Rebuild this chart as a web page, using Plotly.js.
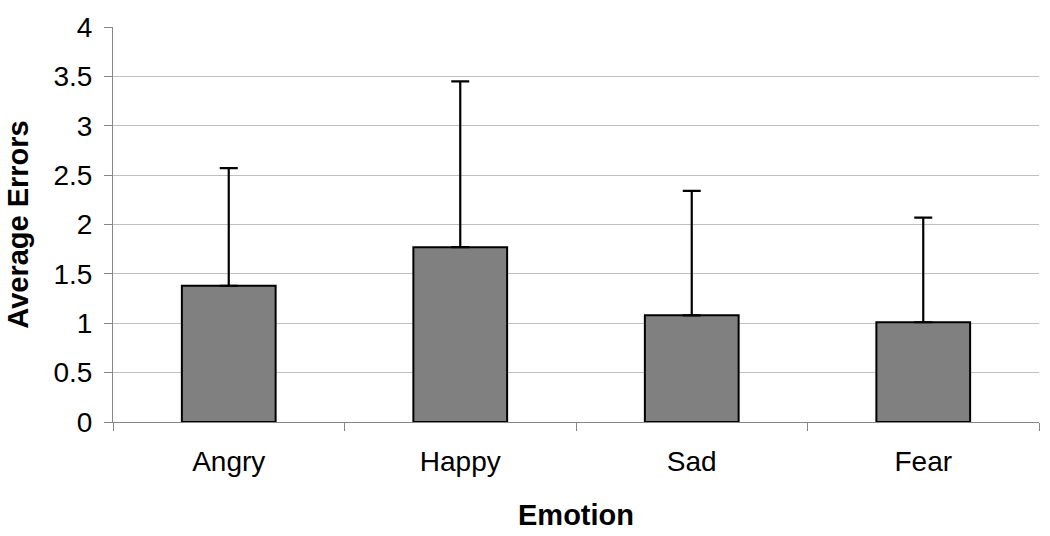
<!DOCTYPE html>
<html>
<head>
<meta charset="utf-8">
<script src="https://cdn.plot.ly/plotly-3.0.1.min.js"></script>
<style>html,body{margin:0;padding:0;background:#fff;}#chart{width:1050px;height:536px;}</style>
</head>
<body>
<div id="chart"></div>
<script>
const categories = ["Angry", "Happy", "Sad", "Fear"];
const averageErrors = [1.38, 1.77, 1.08, 1.01];
const errorPlus = [1.19, 1.68, 1.26, 1.06];
const errorMinus = [0, 0, 0, 0];
const yTickValues = [0, 0.5, 1, 1.5, 2, 2.5, 3, 3.5, 4];
const yTickLabels = ["0", "0.5", "1", "1.5", "2", "2.5", "3", "3.5", "4"];

const trace = {
  type: "bar",
  x: categories,
  y: averageErrors,
  marker: { color: "#808080", line: { color: "#000000", width: 2 } },
  error_y: {
    type: "data",
    symmetric: false,
    array: errorPlus,
    arrayminus: errorMinus,
    color: "#000000",
    thickness: 2.2,
    width: 9
  },
  hoverinfo: "none"
};

const layout = {
  width: 1050,
  height: 536,
  margin: { l: 113, r: 11, t: 27, b: 114 },
  paper_bgcolor: "#ffffff",
  plot_bgcolor: "#ffffff",
  font: { family: "Liberation Sans, Arial, sans-serif", color: "#000000" },
  bargap: 0.595,
  showlegend: false,
  xaxis: {
    type: "category",
    showline: true,
    linecolor: "#868686",
    linewidth: 1,
    ticks: "outside",
    tickson: "boundaries",
    ticklen: 8,
    tickcolor: "#868686",
    tickfont: { size: 28, family: "Liberation Sans, Arial, sans-serif", color: "#000" },
    ticklabelstandoff: 14,
    showgrid: false,
    zeroline: false,
    title: { text: "Emotion", font: { size: 29, family: "Liberation Sans, Arial, sans-serif", weight: "bold", color: "#000" }, standoff: 29 }
  },
  yaxis: {
    range: [0, 4],
    tickvals: yTickValues,
    ticktext: yTickLabels,
    showline: true,
    linecolor: "#868686",
    linewidth: 1,
    ticks: "outside",
    ticklen: 8,
    tickcolor: "#868686",
    tickfont: { size: 28, family: "Liberation Sans, Arial, sans-serif", color: "#000" },
    ticklabelstandoff: 6,
    showgrid: true,
    gridcolor: "#c0c0c0",
    gridwidth: 1,
    zeroline: false,
    title: { text: "Average Errors", font: { size: 29, family: "Liberation Sans, Arial, sans-serif", weight: "bold", color: "#000" }, standoff: 16 }
  }
};

Plotly.newPlot("chart", [trace], layout, { staticPlot: true, displayModeBar: false });
</script>
</body>
</html>
